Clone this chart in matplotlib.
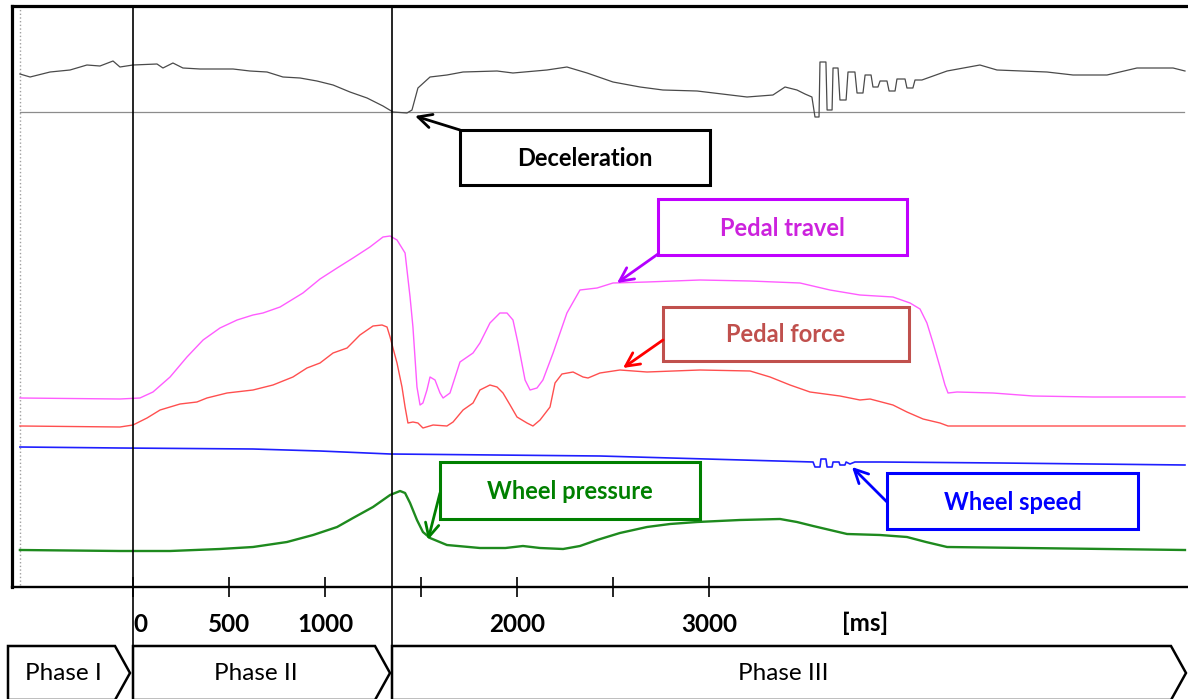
import matplotlib
matplotlib.use('Agg')
import matplotlib.pyplot as plt
from matplotlib.patches import Polygon, Rectangle

plt.rcParams['font.family'] = ['Lato', 'DejaVu Sans']

# time in ms, signal values in arbitrary units (0 = rest level of each trace)
time_decel = [-589, -536, -432, -328, -240, -172, -104, -68, 0, 125, 156, 208, 260, 349,
              521, 609, 698, 781, 870, 958, 1042, 1130, 1219, 1302, 1354, 1427, 1453,
              1484, 1547, 1635, 1719, 1896, 1979, 2156, 2260, 2365, 2500, 2641, 2760,
              2938, 3198, 3333, 3396, 3458, 3500, 3536, 3552, 3573, 3578, 3609, 3615,
              3641, 3646, 3672, 3682, 3714, 3724, 3760, 3771, 3802, 3813, 3844, 3854,
              3880, 3891, 3927, 3938, 3969, 3979, 4021, 4031, 4062, 4073, 4109, 4240,
              4411, 4500, 4760, 4896, 5073, 5229, 5417, 5479]
decel = [38, 35, 40, 42, 47, 46, 51, 45, 47, 48, 44, 49, 44, 43,
         43, 41, 40, 35, 34, 31, 27, 20, 14, 6, 0, -1, 2,
         24, 35, 37, 40, 41, 39, 42, 45, 39, 30, 25, 22,
         21, 15, 17, 25, 22, 18, 15, -5, -5, 50, 50, 2,
         2, 44, 44, 12, 12, 40, 40, 19, 19, 37, 37, 25,
         25, 31, 31, 21, 21, 33, 33, 24, 24, 32, 32, 41,
         47, 42, 40, 37, 37, 44, 44, 41]

time_travel = [-589, -68, 36, 104, 193, 281, 365, 453, 542, 625, 677, 766, 885, 974,
               1063, 1146, 1234, 1302, 1339, 1375, 1417, 1443, 1458, 1479, 1495, 1510,
               1531, 1547, 1573, 1599, 1615, 1651, 1703, 1771, 1807, 1859, 1911, 1948,
               1979, 2005, 2042, 2068, 2104, 2135, 2188, 2260, 2328, 2417, 2500, 2677,
               2953, 3214, 3474, 3630, 3786, 3958, 4047, 4099, 4135, 4167, 4203, 4229,
               4245, 4292, 4479, 4688, 5000, 5479]
travel = [0, -1, 0, 6, 21, 41, 58, 70, 78, 83, 85, 91, 105, 119,
          130, 140, 151, 161, 162, 158, 145, 101, 71, 11, -7, -5,
          8, 21, 18, 5, 0, 5, 36, 45, 55, 75, 85, 85,
          78, 55, 18, 8, 10, 18, 45, 85, 108, 110, 115, 116,
          118, 117, 115, 108, 103, 101, 95, 89, 75, 55, 31, 13,
          5, 6, 5, 2, 1, 1]

time_force = [-589, -68, 0, 73, 141, 245, 333, 385, 490, 625, 729, 833, 906, 974,
              1042, 1115, 1182, 1250, 1297, 1323, 1339, 1354, 1375, 1401, 1417, 1432,
              1458, 1484, 1510, 1563, 1635, 1667, 1719, 1771, 1807, 1859, 1896, 1927,
              1964, 2000, 2052, 2083, 2120, 2172, 2198, 2234, 2292, 2344, 2370, 2432,
              2536, 2677, 2953, 3214, 3318, 3422, 3526, 3682, 3786, 3839, 3958, 4031,
              4115, 4203, 4245, 5479]
force = [0, -1, 1, 8, 16, 22, 24, 28, 33, 36, 41, 49, 58, 63,
         73, 78, 91, 100, 101, 99, 89, 78, 63, 39, 19, 3,
         4, 3, -2, 1, 0, 4, 16, 23, 36, 41, 39, 33,
         21, 9, 3, 0, 6, 19, 43, 52, 54, 49, 48, 53,
         56, 54, 56, 55, 49, 41, 34, 30, 26, 27, 21, 14,
         7, 3, 0, 0]

time_speed = [-589, -68, 625, 974, 1339, 2432, 3542, 3552, 3578, 3583, 3609, 3615, 3641,
              3646, 3677, 3682, 3708, 3714, 3734, 3760, 3891, 4516, 5479]
speed = [23, 22, 21, 19, 16, 14, 8, 3, 3, 11, 11, 3, 3,
         8, 8, 5, 5, 8, 6, 8, 8, 7, 5]

time_pressure = [-589, -68, 193, 453, 625, 802, 938, 1063, 1146, 1250, 1339, 1391, 1417,
                 1443, 1479, 1510, 1547, 1635, 1807, 1940, 2031, 2120, 2240, 2328, 2417,
                 2536, 2677, 2797, 2938, 3161, 3370, 3458, 3542, 3719, 3891, 4031, 4130,
                 4240, 5479]
pressure = [0, -1, -1, 1, 3, 8, 15, 23, 32, 43, 55, 59, 57,
            47, 30, 18, 12, 5, 2, 2, 4, 2, 1, 4, 10,
            17, 23, 26, 28, 30, 31, 28, 24, 16, 15, 13, 8,
            3, 0]

tick_ms = [0, 500, 1000, 1500, 2000, 2500, 3000]
tick_labels = ['0', '500', '1000', '', '2000', '', '3000']
phase_start_ms = [0, 1349]
phase_names = ['Phase I', 'Phase II', 'Phase III']

# layout (pixels of the 1188x699 picture)
W, H = 1188, 699
px_per_ms = 0.192
x0_px = 133
ax_left, ax_top, ax_bottom = 12, 6, 587
base = {'decel': 475, 'travel': 189, 'force': 161, 'speed': 117, 'pressure': 37}

fig = plt.figure(figsize=(W / 100, H / 100), dpi=100)
fig.patch.set_facecolor('white')

ax = fig.add_axes([ax_left / W, (H - ax_bottom) / H, (W - ax_left) / W, (ax_bottom - ax_top) / H])
ax.set_facecolor('none')
ax.set_xlim((ax_left - x0_px) / px_per_ms, (W - x0_px) / px_per_ms)
ax.set_ylim(0, ax_bottom - ax_top)

ax.axhline(base['decel'], xmin=8 / (W - ax_left), xmax=0.997, color='#8c8c8c', lw=0.9)
ax.axvline((20 - x0_px) / px_per_ms, ymin=0.004, ymax=0.996, color='#a0a0a0', lw=1, ls=':')
ax.plot(time_decel, [base['decel'] + v for v in decel], color='#4a4a4a', lw=0.9)
ax.plot(time_travel, [base['travel'] + v for v in travel], color='#ff5cff', lw=1.0)
ax.plot(time_force, [base['force'] + v for v in force], color='#ff4f4f', lw=1.0)
ax.plot(time_speed, [base['speed'] + v for v in speed], color='#1f1fff', lw=1.2)
ax.plot(time_pressure, [base['pressure'] + v for v in pressure], color='#1e8a1e', lw=1.7)

for t in phase_start_ms:
    ax.axvline(t, ymin=-(H - ax_bottom) / (ax_bottom - ax_top), ymax=1, color='black',
               lw=1.2, clip_on=False)

for side in ['left', 'top']:
    ax.spines[side].set_linewidth(2.3)
ax.spines['bottom'].set_linewidth(1.7)
ax.spines['right'].set_visible(False)
ax.set_yticks([])
ax.set_xticks(tick_ms, tick_labels, fontsize=17.5, fontweight='bold')
ax.tick_params(axis='x', direction='inout', length=14, width=1.2, pad=12)
ax.get_xticklabels()[0].set_ha('left')
ax.text((865 - x0_px) / px_per_ms, -0.062, '[ms]', transform=ax.get_xaxis_transform(),
        fontsize=17.5, fontweight='bold', ha='center', va='center')

# overlay in pixel units for boxes and phase arrows
ov = fig.add_axes([0, 0, 1, 1], zorder=3)
ov.set_xlim(0, W)
ov.set_ylim(H, 0)
ov.axis('off')

phase_px = [(8, 115, 130), (133, 375, 390), (392, 1171, 1186)]
for (l, r, tip), name in zip(phase_px, phase_names):
    ov.add_patch(Polygon([(l, 646), (r, 646), (tip, 673), (r, 700), (l, 700)], closed=True,
                         facecolor='white', edgecolor='black', lw=1.8, clip_on=False))
    ov.text((l + r) / 2 + 2, 674, name, fontsize=17.5, ha='center', va='center')

boxes = [
    ('Deceleration', (460, 130, 710, 185), 'black', 'black', 'black', (460, 130),
     ((415 - x0_px) / px_per_ms, base['decel'] - 4)),
    ('Pedal travel', (658, 199, 907, 255), '#c000ff', '#cc22dd', '#b400ff', (658, 254),
     ((617 - x0_px) / px_per_ms, base['travel'] + 115)),
    ('Pedal force', (663, 307, 909, 361), '#c0504d', '#c0504d', '#ff0000', (663, 340),
     ((623 - x0_px) / px_per_ms, base['force'] + 58)),
    ('Wheel pressure', (440, 462, 700, 519), '#008000', '#008000', '#008000', (440, 493),
     ((428 - x0_px) / px_per_ms, base['pressure'] + 10)),
    ('Wheel speed', (887, 473, 1138, 529), '#0000ff', '#0000ff', '#0000ff', (887, 502),
     ((852 - x0_px) / px_per_ms, base['speed'] + 3)),
]
for label, (l, t, r, b), edge, tcol, acol, tail, head in boxes:
    ov.add_patch(Rectangle((l, t), r - l, b - t, facecolor='white', edgecolor=edge, lw=2.2))
    ov.text((l + r) / 2, (t + b) / 2 + 1, label, fontsize=17, fontweight='bold', color=tcol,
            ha='center', va='center')
    ov.annotate('', xy=head, xycoords=ax.transData, xytext=tail, textcoords='data',
                arrowprops=dict(arrowstyle='->,head_length=0.7,head_width=0.35', color=acol,
                                lw=2.0, shrinkA=0, shrinkB=0, mutation_scale=14))

fig.savefig('out.png', dpi=100)
